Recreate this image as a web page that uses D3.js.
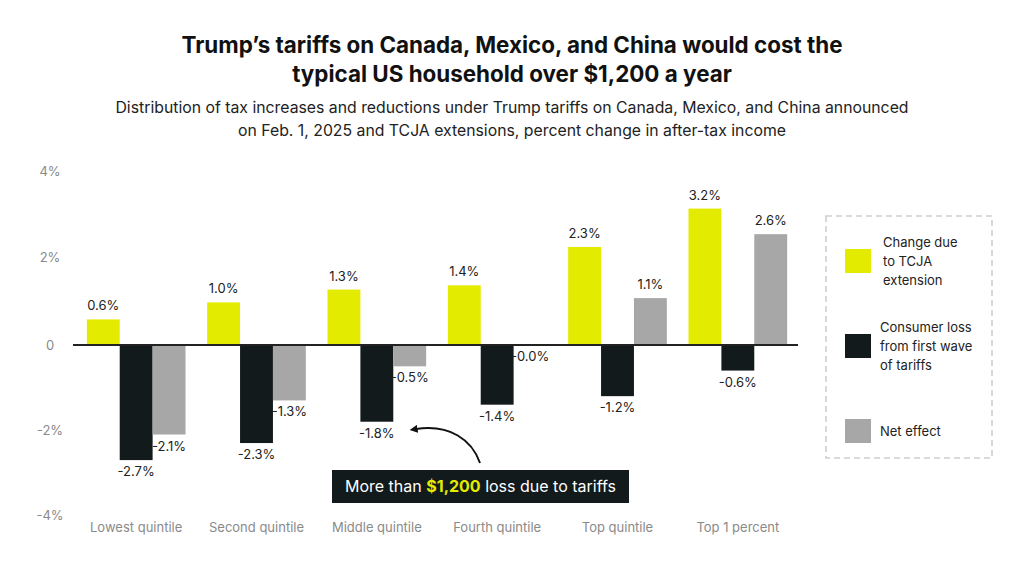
<!DOCTYPE html>
<html><head><meta charset="utf-8">
<script src="https://cdn.jsdelivr.net/npm/d3@7"></script>
<style>body{margin:0;background:#fff;font-family:Inter,"Noto Sans",sans-serif;}</style>
</head><body><svg id="c" width="1024" height="572"></svg>
<script>
const categories = ["Lowest quintile","Second quintile","Middle quintile","Fourth quintile","Top quintile","Top 1 percent"];
const seriesNames = ["Change due to TCJA extension","Consumer loss from first wave of tariffs","Net effect"];
const tcja = [0.6, 1.0, 1.3, 1.4, 2.3, 3.2];
const tariffLoss = [-2.7, -2.3, -1.8, -1.4, -1.2, -0.6];
const netEffect = [-2.1, -1.3, -0.5, -0.0, 1.1, 2.6];
const yTicks = [4, 2, 0, -2, -4];
const colors = ["#e3eb00", "#121a1c", "#a6a7a6"];

const svg = d3.select("#c");
const font = "Inter, 'Noto Sans', sans-serif";

// Titles
svg.append("text").attr("x",512).attr("y",53).attr("text-anchor","middle")
  .attr("font-size",22.4).attr("font-weight",700).attr("fill","#111").attr("font-family",font)
  .text("Trump’s tariffs on Canada, Mexico, and China would cost the");
svg.append("text").attr("x",512).attr("y",82).attr("text-anchor","middle")
  .attr("font-size",22.4).attr("font-weight",700).attr("fill","#111").attr("font-family",font)
  .text("typical US household over $1,200 a year");
svg.append("text").attr("x",512).attr("y",113).attr("text-anchor","middle")
  .attr("font-size",15.8).attr("fill","#222").attr("font-family",font)
  .text("Distribution of tax increases and reductions under Trump tariffs on Canada, Mexico, and China announced");
svg.append("text").attr("x",512).attr("y",136).attr("text-anchor","middle")
  .attr("font-size",15.8).attr("fill","#222").attr("font-family",font)
  .text("on Feb. 1, 2025 and TCJA extensions, percent change in after-tax income");

const y = d3.scaleLinear().domain([-4,4]).range([515.5,174.5]);
const x0 = d3.scaleBand().domain(categories).range([76,798]).paddingInner(0.18).paddingOuter(0.09);
const x1 = d3.scaleBand().domain([0,1,2]).range([0,x0.bandwidth()]);

// y tick labels
svg.append("g").selectAll("text").data(yTicks).join("text")
  .attr("x",50).attr("y",d=>y(d) + (d===4 ? -3 : d===2 ? -2 : 0)).attr("dy","0.35em").attr("text-anchor","middle")
  .attr("font-size",13).attr("fill","#8a8a8a").attr("font-family",font)
  .text(d=> d===0 ? "0" : d+"%");

const data = categories.map((c,i)=>({cat:c, vals:[tcja[i],tariffLoss[i],netEffect[i]]}));

const g = svg.append("g");
data.forEach(d=>{
  d.vals.forEach((v,j)=>{
    const bx = x0(d.cat)+x1(j);
    const bw = x1.bandwidth();
    g.append("rect").attr("x",bx).attr("width",bw)
      .attr("y",y(Math.max(0,v))).attr("height",Math.abs(y(v)-y(0)))
      .attr("fill",colors[j]);
    const isNeg = v<0 || Object.is(v,-0);
    g.append("text").attr("x",bx+bw/2)
      .attr("y", isNeg ? y(v)+16 : y(v)-9)
      .attr("text-anchor","middle").attr("font-size",13).attr("fill","#222").attr("font-family",font)
      .text((isNeg ? "-" : "") + Math.abs(v).toFixed(1) + "%");
  });
});

// zero line
svg.append("line").attr("x1",73).attr("x2",798).attr("y1",y(0)).attr("y2",y(0))
  .attr("stroke","#222").attr("stroke-width",2);

// x labels
svg.append("g").selectAll("text").data(categories).join("text")
  .attr("x",d=>x0(d)+x0.bandwidth()/2).attr("y",532).attr("text-anchor","middle")
  .attr("font-size",13).attr("fill","#8a8a8a").attr("font-family",font).text(d=>d);

// legend
svg.append("rect").attr("x",826).attr("y",216).attr("width",166).attr("height",242)
  .attr("fill","none").attr("stroke","#cfcfcf").attr("stroke-width",1.6).attr("stroke-dasharray","6,4");
const legendLines = [["Change due","to TCJA","extension"],["Consumer loss","from first wave","of tariffs"],["Net effect"]];
const legY = [261, 346, 431];
legendLines.forEach((lines,i)=>{
  svg.append("rect").attr("x",845).attr("y",legY[i]-12).attr("width",26).attr("height",24).attr("fill",colors[i]);
  const tx = i===0 ? 883 : 880;
  const start = legY[i] - (lines.length-1)*19/2;
  lines.forEach((l,k)=>{
    svg.append("text").attr("x",tx).attr("y",start+k*19).attr("dy","0.35em")
      .attr("font-size",13).attr("fill","#222").attr("font-family",font).text(l);
  });
});

// annotation
svg.append("rect").attr("x",332).attr("y",470).attr("width",297).attr("height",33).attr("fill","#121a1c");
const ann = svg.append("text").attr("x",480.5).attr("y",492).attr("text-anchor","middle")
  .attr("font-size",16).attr("fill","#fff").attr("font-family",font);
ann.append("tspan").text("More than ");
ann.append("tspan").attr("fill","#e3eb00").attr("font-weight",700).text("$1,200");
ann.append("tspan").text(" loss due to tariffs");

svg.append("defs").append("marker").attr("id","ah").attr("viewBox","0 0 10 10")
  .attr("refX",2).attr("refY",5).attr("markerWidth",4).attr("markerHeight",4).attr("orient","auto")
  .append("path").attr("d","M0,0 L10,5 L0,10 Z").attr("fill","#111");
svg.append("path").attr("d","M480,463 C472,440 450,424 416,429")
  .attr("fill","none").attr("stroke","#111").attr("stroke-width",2).attr("marker-end","url(#ah)");
</script></body></html>
